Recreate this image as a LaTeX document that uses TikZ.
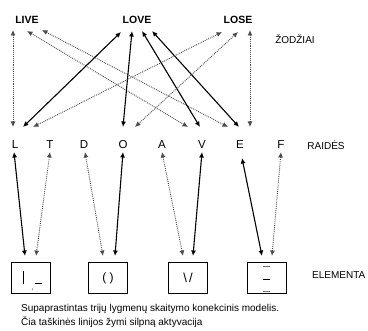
\documentclass[tikz,border=0pt]{standalone}
\usepackage{fontspec}
\setmainfont{Liberation Sans}
\usetikzlibrary{arrows.meta}
\begin{document}
\begin{tikzpicture}[x=1pt,y=-1pt,
  word/.style={font=\fontsize{10.5}{12}\selectfont\bfseries, inner sep=0pt},
  letter/.style={font=\fontsize{11.5}{13}\selectfont, inner sep=0pt},
  lab/.style={font=\fontsize{10}{11}\selectfont, inner sep=0pt},
  captext/.style={font=\fontsize{10}{11}\selectfont, inner sep=0pt, anchor=west},
  elbox/.style={draw, line width=0.9pt, minimum width=39pt, minimum height=31pt, inner sep=0pt},
  tips/.style={{Latex[length=5.5pt,width=5pt]}-{Latex[length=5.5pt,width=5pt]}},
  strong/.style={tips, line width=1.1pt, black},
  weak/.style={tips, line width=0.9pt, densely dotted, black!70}]
\useasboundingbox (0,0) rectangle (368,331);
% words
\node[word] (LIVE) at (27,20) {LIVE};
\node[word] (LOVE) at (137,20) {LOVE};
\node[word] (LOSE) at (238,20) {LOSE};
\node[lab] (zod) at (295,39) {ŽODŽIAI};
% letters
\node[letter] (L) at (15,145) {L};
\node[letter] (T) at (50,145) {T};
\node[letter] (D) at (84,145) {D};
\node[letter] (O) at (123,145) {O};
\node[letter] (A) at (162,145) {A};
\node[letter] (V) at (202,145) {V};
\node[letter] (E) at (240,145) {E};
\node[letter] (F) at (281,145) {F};
\node[lab] (rai) at (326,145) {RAIDĖS};
% element boxes
\node[elbox] (b1) at (30.5,277.5) {};
\node[elbox] (b2) at (108,277.5) {};
\node[elbox] (b3) at (187.5,277.5) {};
\node[elbox] (b4) at (267,277.5) {};
\node[lab, anchor=west] (ele) at (312,275) {ELEMENTA};
% box contents
\draw[line width=0.9pt] (23,271) -- (23,284);
\draw[line width=0.9pt] (35,283) -- (42,283);
\draw[line width=0.6pt, black!60] (32.5,288.5) -- (32,290.5);
\node[font=\fontsize{12}{14}\selectfont, inner sep=0pt] (g2) at (108,278) {( )};
\node[font=\fontsize{13}{14}\selectfont, inner sep=0pt] (g3) at (188,278) {\textbackslash\,/};
\draw[line width=0.7pt, black!55] (263.5,266) -- (270.5,266);
\draw[line width=0.9pt] (263.5,279) -- (270.5,279);
\draw[line width=0.7pt, black!55] (263.5,291) -- (270.5,291);
% captions
\node[captext] (c1) at (21,309) {Supaprastintas trijų lygmenų skaitymo konekcinis modelis.};
\node[captext] (c2) at (21,322.5) {Čia taškinės linijos žymi silpną aktyvacija};
% ports: words
\coordinate (LIVEa) at (13,30);
\coordinate (LIVEb) at (27,31);
\coordinate (LIVEc) at (42,30);
\coordinate (LOVEa) at (121,32);
\coordinate (LOVEb) at (132,31);
\coordinate (LOVEc) at (142,31);
\coordinate (LOVEd) at (152,31);
\coordinate (LOSEa) at (222,32);
\coordinate (LOSEb) at (238,32);
\coordinate (LOSEc) at (250,30);
% ports: letters top
\coordinate (Lt1) at (13,127);
\coordinate (Lt2) at (23,127);
\coordinate (Lt3) at (33,127);
\coordinate (Ot1) at (123,127);
\coordinate (Ot2) at (135,127);
\coordinate (Vt1) at (188,127);
\coordinate (Vt2) at (200,127);
\coordinate (Et1) at (228,127);
\coordinate (Et2) at (239,127);
\coordinate (Et3) at (250,127);
% ports: letters bottom
\coordinate (Lb) at (14,152);
\coordinate (Tb) at (50,152);
\coordinate (Db) at (85,152);
\coordinate (Ob) at (123,152);
\coordinate (Ab) at (162,152);
\coordinate (Vb) at (202,152);
\coordinate (Eb) at (242,158);
\coordinate (Fb) at (281,152);
% ports: boxes top
\coordinate (b1a) at (25,256);
\coordinate (b1b) at (36,256);
\coordinate (b2a) at (103,256);
\coordinate (b2b) at (115,256);
\coordinate (b3a) at (183,256);
\coordinate (b3b) at (193,256);
\coordinate (b4a) at (262,256);
\coordinate (b4b) at (272,256);
% word-letter connections
\draw[weak] (LIVEa) -- (Lt1);
\draw[weak] (LIVEb) -- (Vt1);
\draw[weak] (LIVEc) -- (Et1);
\draw[strong] (LOVEa) -- (Lt2);
\draw[strong] (LOVEb) -- (Ot1);
\draw[strong] (LOVEc) -- (Vt2);
\draw[strong] (LOVEd) -- (Et2);
\draw[weak] (LOSEa) -- (Lt3);
\draw[weak] (LOSEb) -- (Ot2);
\draw[weak] (LOSEc) -- (Et3);
% letter-element connections
\draw[strong] (Lb) -- (b1a);
\draw[weak] (Tb) -- (b1b);
\draw[weak] (Db) -- (b2a);
\draw[strong] (Ob) -- (b2b);
\draw[weak] (Ab) -- (b3a);
\draw[strong] (Vb) -- (b3b);
\draw[strong] (Eb) -- (b4a);
\draw[weak] (Fb) -- (b4b);
\end{tikzpicture}
\end{document}
